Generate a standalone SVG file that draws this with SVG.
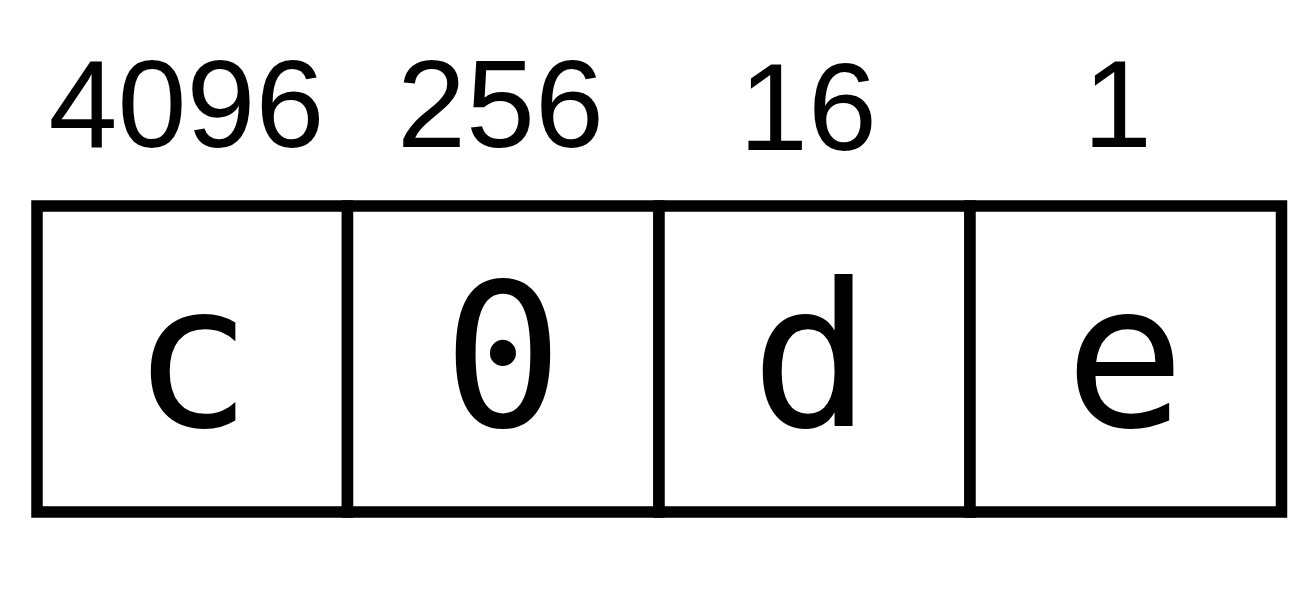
<svg xmlns="http://www.w3.org/2000/svg" width="1316" height="599" viewBox="0 0 1316 599">
<style>
.cell{fill:#fff;stroke:#000;stroke-width:11.5}
.w{font-family:"Liberation Sans",Arial,Helvetica,sans-serif;font-size:124px;fill:#000}
.v{font-family:"DejaVu Sans Mono","Liberation Mono",monospace;font-size:200px;fill:#000;text-anchor:middle}
</style>
<rect width="1316" height="599" fill="#fff"/>
<g id="connectors"></g>
<g id="cell-c">
<rect class="cell" x="37" y="206" width="310.5" height="306"/>
<text class="w" x="48.5" y="147">4096</text>
<text class="v" x="192" y="426">c</text>
</g>
<g id="cell-0">
<rect class="cell" x="347.5" y="206" width="311.5" height="306"/>
<text class="w" x="397" y="147">256</text>
<text class="v" x="503" y="426">0</text>
</g>
<g id="cell-d">
<rect class="cell" x="659" y="206" width="311" height="306"/>
<text class="w" x="739" y="150">16</text>
<text class="v" x="811" y="426">d</text>
</g>
<g id="cell-e">
<rect class="cell" x="970" y="206" width="311.5" height="306"/>
<text class="w" x="1083" y="147">1</text>
<text class="v" x="1125" y="426">e</text>
</g>
</svg>
